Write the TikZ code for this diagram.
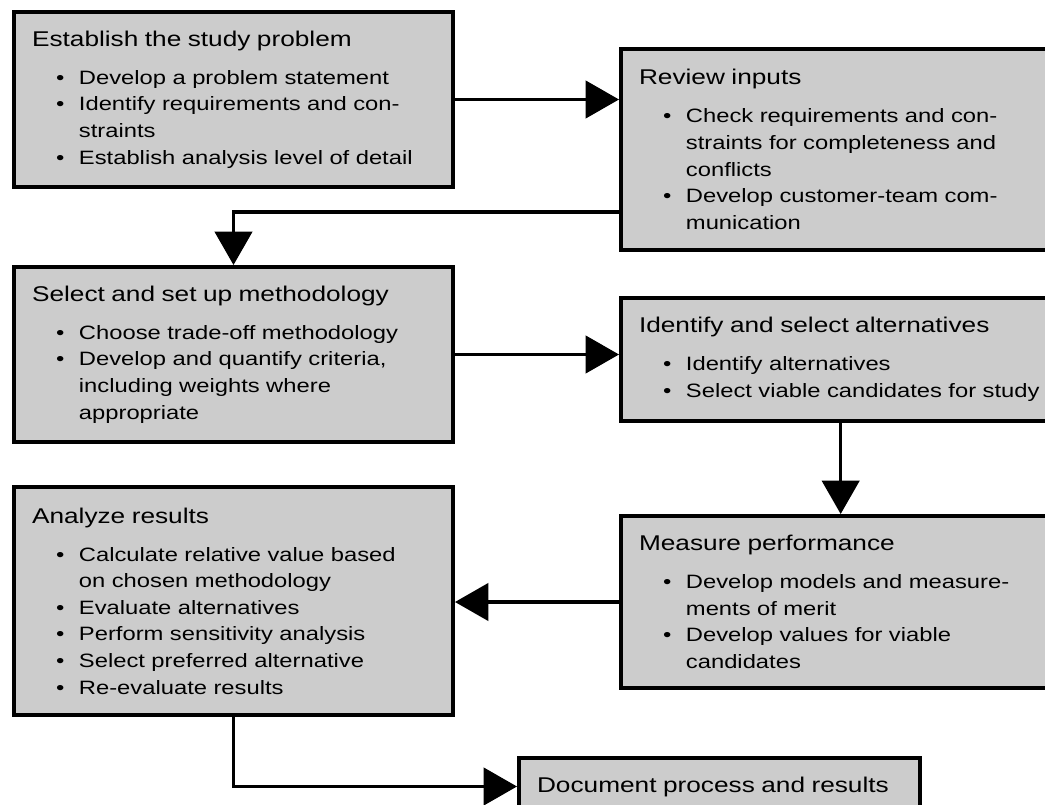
\documentclass[tikz,border=0pt]{standalone}
\usepackage{fontspec}
\setmainfont{Liberation Sans}[FakeStretch=1.23]
\usetikzlibrary{arrows.meta,positioning}
\definecolor{boxgray}{HTML}{CCCCCC}
\newcommand{\ttl}[1]{{\fontsize{16}{19.95}\selectfont #1}}
\newcommand{\bitem}[1]{\mbox{\hspace*{18pt}\makebox[17.2pt][l]{\textbullet}#1}}
\newcommand{\bcont}[1]{\mbox{\hspace*{35.2pt}#1}}

\begin{document}
\begin{tikzpicture}[every node/.style={font=\fontsize{14.5}{19.95}\selectfont}, box/.style={draw,line width=3pt,fill=boxgray,align=left,inner xsep=13.5pt,inner ysep=4pt}, lbox/.style={box,text width=302.25pt}, rbox/.style={box,text width=292.5pt}, arr/.style={line width=2.4pt,-{Triangle[length=25pt,width=28pt]}}]
\useasboundingbox (0,0) rectangle (783.75pt,-603.75pt);
\node[lbox,minimum height=131.25pt,anchor=north west] (prob) at (9pt,-7.5pt) {\ttl{Establish the study problem}\\[8.6pt]
\bitem{Develop a problem statement}\\
\bitem{Identify requirements and con-}\\
\bcont{straints}\\
\bitem{Establish analysis level of detail}};
\node[rbox,minimum height=150.75pt,below right=27.75pt and 123pt of prob.north east] (review) {\ttl{Review inputs}\\[8.6pt]
\bitem{Check requirements and con-}\\
\bcont{straints for completeness and}\\
\bcont{conflicts}\\
\bitem{Develop customer-team com-}\\
\bcont{munication}};
\node[lbox,minimum height=131.25pt,below=57pt of prob] (method) {\ttl{Select and set up methodology}\\[8.6pt]
\bitem{Choose trade-off methodology}\\
\bitem{Develop and quantify criteria,}\\
\bcont{including weights where}\\
\bcont{appropriate}};
\node[rbox,minimum height=92.25pt,below=33pt of review] (alts) {\ttl{Identify and select alternatives}\\[8.6pt]
\bitem{Identify alternatives}\\
\bitem{Select viable candidates for study}};
\node[rbox,minimum height=129pt,below=68.25pt of alts] (measure) {\ttl{Measure performance}\\[8.6pt]
\bitem{Develop models and measure-}\\
\bcont{ments of merit}\\
\bitem{Develop values for viable}\\
\bcont{candidates}};
\node[lbox,minimum height=171pt,below=30.75pt of method] (analyze) {\ttl{Analyze results}\\[8.6pt]
\bitem{Calculate relative value based}\\
\bcont{on chosen methodology}\\
\bitem{Evaluate alternatives}\\
\bitem{Perform sensitivity analysis}\\
\bitem{Select preferred alternative}\\
\bitem{Re-evaluate results}};
\node[box,text width=273.75pt,minimum height=42.75pt,below right=29.25pt and 46.5pt of analyze.south east] (report) {\ttl{Document process and results}};
\draw[arr] (prob.east) -- (prob.east -| review.west);
\draw[arr] ([yshift=-46.9pt]review.west) -| (method.north);
\draw[arr] (method.east) -- (method.east -| alts.west);
\draw[arr] ([xshift=5pt]alts.south) -- ([xshift=5pt]measure.north);
\draw[arr] (measure.west) -- (measure.west -| analyze.east);
\draw[arr] (analyze.south) |- (report.west);
\end{tikzpicture}
\end{document}
